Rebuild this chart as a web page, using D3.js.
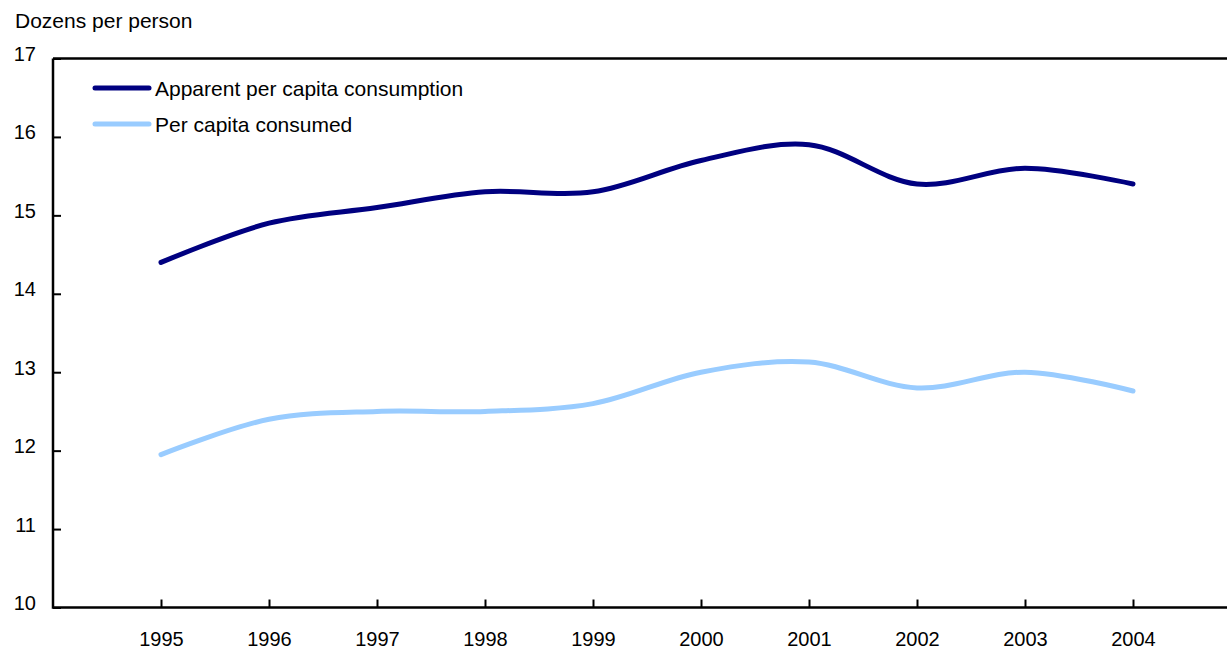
<!DOCTYPE html>
<html>
<head>
<meta charset="utf-8">
<script src="https://cdn.jsdelivr.net/npm/d3@7"></script>
<style>
  body { margin: 0; background: #fff; }
  svg { display: block; font-family: "Liberation Sans", Arial, Helvetica, sans-serif; }
</style>
</head>
<body>
<svg id="chart" width="1227" height="651"></svg>
<script>
// data
const years = [1995, 1996, 1997, 1998, 1999, 2000, 2001, 2002, 2003, 2004]
const apparent = [14.4, 14.9, 15.1, 15.3, 15.3, 15.7, 15.9, 15.4, 15.6, 15.4]
const consumed = [11.95, 12.4, 12.5, 12.5, 12.6, 13.0, 13.13, 12.8, 13.0, 12.76]
const yTicks = [10, 11, 12, 13, 14, 15, 16, 17]
const seriesNames = ['Apparent per capita consumption', 'Per capita consumed']
const seriesColors = ['#000080', '#99ccff']

const svg = d3.select('#chart')

const plotLeft = 53, plotTop = 58.5, plotBottom = 607.5

const x = d3.scaleLinear().domain([1994, 2005]).range([plotLeft, plotLeft + 11 * 108])
const y = d3.scaleLinear().domain([10, 17]).range([plotBottom, plotTop])

/**
 * @Frame
 */
svg.append('path')
    .attr('d', `M${plotLeft},${plotTop}H1230M${plotLeft},${plotTop}V${plotBottom}H1230`)
    .attr('fill', 'none')
    .attr('stroke', '#000')
    .attr('stroke-width', 2.5)

// y axis ticks (inside)
const yAxis = svg.append('g')
    .attr('transform', `translate(${plotLeft},0)`)
    .call(d3.axisRight(y).tickValues(yTicks).tickSize(8).tickSizeOuter(0).tickFormat(d3.format('d')))
yAxis.select('.domain').remove()
yAxis.selectAll('line').attr('stroke', '#000').attr('stroke-width', 2)
yAxis.selectAll('text')
    .attr('x', -17)
    .attr('text-anchor', 'end')
    .attr('dy', '0.1em')
    .style('font-size', '20px')
    .attr('fill', '#000')

// x axis ticks (pointing up)
const xAxis = svg.append('g')
    .attr('transform', `translate(0,${plotBottom})`)
    .call(d3.axisTop(x).tickValues(years).tickSize(8).tickSizeOuter(0).tickFormat(d3.format('d')))
xAxis.select('.domain').remove()
xAxis.selectAll('line').attr('stroke', '#000').attr('stroke-width', 2)
xAxis.selectAll('text')
    .attr('y', 38)
    .attr('dy', 0)
    .style('font-size', '20px')
    .attr('fill', '#000')

// y title
svg.append('text')
    .attr('x', 15)
    .attr('y', 28)
    .style('font-size', '21px')
    .text('Dozens per person')

/**
 * @Lines
 */
const line = d3.line()
    .x((d, i) => x(years[i]))
    .y(d => y(d))
    .curve(d3.curveCatmullRom.alpha(0.5))

;[apparent, consumed].forEach((values, k) => {
    svg.append('path')
        .datum(values)
        .attr('d', line)
        .attr('fill', 'none')
        .attr('stroke', seriesColors[k])
        .attr('stroke-width', 5)
        .attr('stroke-linecap', 'round')
})

/**
 * @Legend
 */
const legend = svg.append('g')
seriesNames.forEach((name, k) => {
    const ly = 88 + k * 36
    legend.append('line')
        .attr('x1', 95).attr('x2', 149)
        .attr('y1', ly).attr('y2', ly)
        .attr('stroke', seriesColors[k])
        .attr('stroke-width', 5)
        .attr('stroke-linecap', 'round')
    legend.append('text')
        .attr('x', 155)
        .attr('y', ly + 8)
        .style('font-size', '21px')
        .text(name)
})
</script>
</body>
</html>
